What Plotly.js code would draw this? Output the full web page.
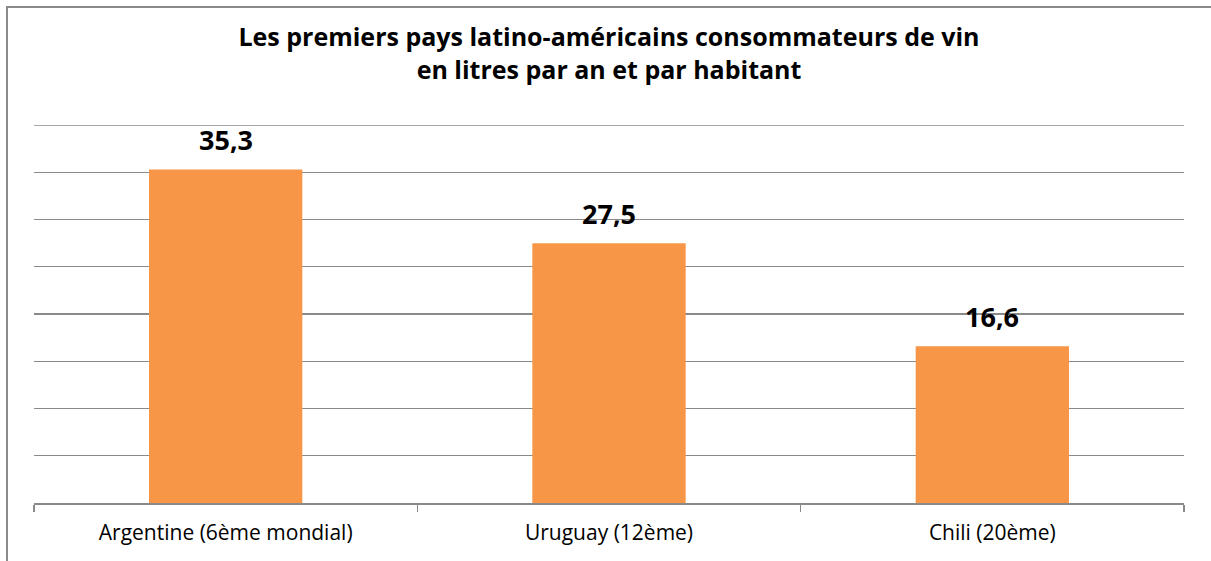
<!DOCTYPE html>
<html><head><meta charset="utf-8">
<script src="https://cdn.plot.ly/plotly-3.0.1.min.js"></script>
<style>
body{margin:0;overflow:hidden;background:#fff;}
#chart{position:absolute;left:0;top:0;width:1211px;height:561px;}
#frame{position:absolute;left:6px;top:6px;width:1400px;height:800px;border:2px solid #8a8a8a;pointer-events:none;}
</style>
</head><body>
<div id="chart"></div><div id="frame"></div>
<script>
const categories = ["Argentine (6ème mondial)", "Uruguay (12ème)", "Chili (20ème)"];
const values = [35.3, 27.5, 16.6];
const valueLabels = values.map(v => v.toFixed(1).replace('.', ','));
const titleLines = ["Les premiers pays latino-américains consommateurs de vin", "en litres par an et par habitant"];
const yMax = 40;

const font = "'Open Sans', Lato, sans-serif";

const trace = {
  type: 'bar',
  x: categories,
  y: values,
  marker: {color: '#F79646'},
  hoverinfo: 'none'
};

const annotations = categories.map((c, i) => ({
  x: c, y: values[i], xref: 'x', yref: 'y',
  text: '<b>' + valueLabels[i] + '</b>',
  showarrow: false, yanchor: 'bottom', yshift: 9,
  font: {family: font, size: 27, color: '#000'}
}));

const layout = {
  width: 1211, height: 561,
  margin: {l: 34, r: 27, t: 125, b: 58},
  paper_bgcolor: '#fff', plot_bgcolor: '#fff',
  showlegend: false,
  bargap: 0.6,
  title: {
    text: '<b>' + titleLines.join('<br>') + '</b>',
    x: 0.5, xref: 'paper', xanchor: 'center',
    y: 0.918, yref: 'container', yanchor: 'top',
    font: {family: font, size: 25, color: '#000'}
  },
  xaxis: {
    type: 'category',
    showgrid: false, zeroline: false,
    showline: true, linecolor: '#8a8a8a', linewidth: 1.5,
    ticks: 'outside', tickson: 'boundaries', ticklen: 7, tickcolor: '#8a8a8a', tickwidth: 1.5,
    ticklabelstandoff: 10,
    tickfont: {family: font, size: 21, color: '#000'},
    fixedrange: true
  },
  yaxis: {
    range: [0, yMax], dtick: 5,
    showticklabels: false, ticks: '',
    showgrid: true, gridcolor: '#8a8a8a', gridwidth: 1.3,
    zeroline: false, showline: false,
    fixedrange: true
  },
  shapes: [{
    type: 'line', xref: 'paper', x0: 0, x1: 1, yref: 'y', y0: yMax, y1: yMax,
    line: {color: '#8a8a8a', width: 1.3}
  }],
  annotations: annotations
};

Plotly.newPlot('chart', [trace], layout, {displayModeBar: false, staticPlot: true});
</script>
</body></html>
